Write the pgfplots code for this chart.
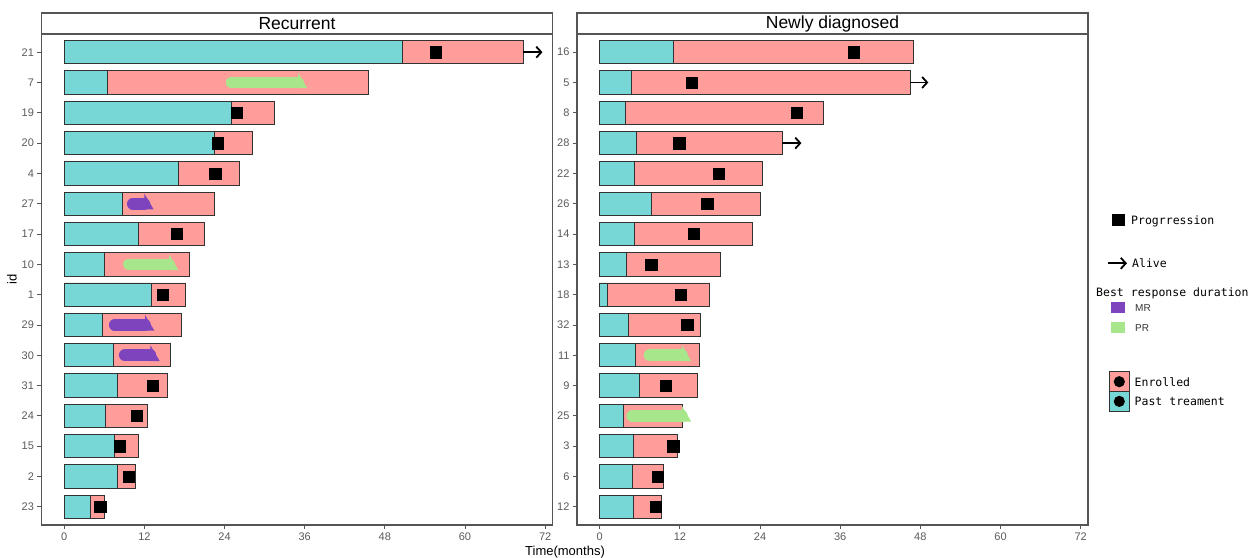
\documentclass[border=0pt]{standalone}
\usepackage{pgfplots}
\usepackage{pgfplotstable}
\pgfplotsset{compat=1.18}
\usepackage{fontspec}
\setmainfont{Liberation Sans}
\newfontfamily\legmono{DejaVu Sans Mono}
\usetikzlibrary{arrows.meta}
\definecolor{cy}{RGB}{118,215,214}
\definecolor{pk}{RGB}{255,157,154}
\definecolor{mr}{RGB}{126,68,190}
\definecolor{pr}{RGB}{168,230,140}
\definecolor{fr}{RGB}{85,85,85}
\definecolor{tk}{RGB}{90,90,90}
\definecolor{bo}{RGB}{50,50,50}

% pos past total progression
\pgfplotstableread{
pos past total prog
16 50.7 68.7 55.6
15 6.4 45.5 nan
14 25.1 31.4 25.8
13 22.5 28.2 23.0
12 17.1 26.2 22.6
11 8.7 22.5 nan
10 11.1 21.0 16.9
9 6.0 18.7 nan
8 13.0 18.2 14.7
7 5.7 17.5 nan
6 7.4 15.9 nan
5 7.9 15.4 13.3
4 6.2 12.4 10.8
3 7.5 11.1 8.3
2 7.95 10.7 9.6
1 4.0 6.0 5.4
}\leftdata

\pgfplotstableread{
pos past total prog
16 11.1 46.9 38.0
15 4.7 46.5 13.8
14 3.8 33.5 29.5
13 5.5 27.3 11.9
12 5.25 24.3 17.8
11 7.8 24.1 16.1
10 5.25 22.9 14.1
9 4.0 18.1 7.7
8 1.2 16.5 12.1
7 4.3 15.1 13.1
6 5.35 14.9 nan
5 5.9 14.7 9.9
4 3.6 12.4 nan
3 5.1 11.6 11.0
2 4.84 9.6 8.7
1 5.0 9.2 8.4
}\rightdata

\pgfplotsset{panel/.style={
  scale only axis, width=511pt, height=491pt,
  xmin=-3.4, xmax=73.1, ymin=0.4, ymax=16.6,
  xtick={0,12,24,36,48,60,72}, ytick={1,...,16},
  tick pos=left,
  tick align=outside, major tick length=4pt,
  tick style={color=fr, line width=0.8pt},
  axis line style={color=fr, line width=1.2pt},
  ticklabel style={font=\fontsize{11}{12}\selectfont, text=tk},
  /pgf/number format/assume math mode=true,
  title style={at={(0.5,1)}, anchor=south, yshift=-6pt, draw=fr, line width=1.2pt, fill=white,
    minimum width=511pt, minimum height=21pt, inner sep=0pt, outer sep=0pt,
    font=\fontsize{17.5}{18}\selectfont, text=black},
  clip=false,
},
pbar/.style={xbar, bar shift=0pt, bar width=0.77, draw=bo, line width=0.9pt},
prog/.style={only marks, mark=square*, mark size=5.6pt, color=black},
alive/.style={black, line width=1.8pt, -{Straight Barb[length=5pt,width=11pt]}},
stroke/.style={line width=11.6pt, line cap=round, color=#1},
tri/.style={fill=#1, draw=none},
}

\begin{document}
\begin{tikzpicture}[x=1pt,y=1pt]
\path[use as bounding box] (0,0) rectangle (1255,557);

\begin{axis}[panel, at={(41.5pt,32pt)}, anchor=south west, title={Recurrent},
  yticklabels={23,2,15,24,31,30,29,1,10,17,27,4,20,19,7,21}]
\addplot[pbar, fill=pk] table[x=total,y=pos]{\leftdata};
\addplot[pbar, fill=cy] table[x=past,y=pos]{\leftdata};
\addplot[prog] table[x=prog,y=pos]{\leftdata};
\addplot[alive] coordinates {(68.7,16) (71.6,16)};
% best response strokes
\addplot[stroke=pr] coordinates {(25.06,15) (35.0,15)};
\addplot[tri=pr] coordinates {(35.0,15.33) (35.0,14.81) (36.4,14.81)} --cycle;
\addplot[stroke=mr] coordinates {(10.26,11) (12.0,11)};
\addplot[tri=mr] coordinates {(12.0,11.33) (12.0,10.81) (13.4,10.81)} --cycle;
\addplot[stroke=pr] coordinates {(9.66,9) (15.7,9)};
\addplot[tri=pr] coordinates {(15.7,9.33) (15.7,8.81) (17.1,8.81)} --cycle;
\addplot[stroke=mr] coordinates {(7.56,7) (12.1,7)};
\addplot[tri=mr] coordinates {(12.1,7.33) (12.1,6.81) (13.5,6.81)} --cycle;
\addplot[stroke=mr] coordinates {(9.06,6) (12.9,6)};
\addplot[tri=mr] coordinates {(12.9,6.33) (12.9,5.81) (14.3,5.81)} --cycle;
\end{axis}

\begin{axis}[panel, at={(577pt,32pt)}, anchor=south west, title={Newly diagnosed},
  yticklabels={12,6,3,25,9,11,32,18,13,14,26,22,28,8,5,16}]
\addplot[pbar, fill=pk] table[x=total,y=pos]{\rightdata};
\addplot[pbar, fill=cy] table[x=past,y=pos]{\rightdata};
\addplot[prog] table[x=prog,y=pos]{\rightdata};
\addplot[alive] coordinates {(46.5,15) (49.2,15)};
\addplot[alive] coordinates {(27.3,13) (30.2,13)};
\addplot[stroke=pr] coordinates {(7.46,6) (12.3,6)};
\addplot[tri=pr] coordinates {(12.3,6.33) (12.3,5.81) (13.7,5.81)} --cycle;
\addplot[stroke=pr] coordinates {(4.86,4) (12.3,4)};
\addplot[tri=pr] coordinates {(12.3,4.33) (12.3,3.81) (13.7,3.81)} --cycle;
\end{axis}

% axis labels
\node[rotate=90, font=\fontsize{13}{14}\selectfont, text=black] at (12,278) {id};
\node[font=\fontsize{13}{14}\selectfont, text=black] at (565,5) {Time(months)};

% legend
\tikzset{lg/.style={anchor=west, inner sep=0pt, text height=8.3pt, text depth=0pt, font=\legmono\fontsize{11.5}{12}\selectfont}}
\fill[black] (1112.2,330.5) rectangle (1125.2,342.5);
\node[lg] at (1131,336.5) {Progrression};
\draw[black, line width=1.8pt, -{Straight Barb[length=5pt,width=11pt]}] (1108,293.7) -- (1127,293.7);
\node[lg] at (1132,293.7) {Alive};
\node[lg] at (1096,264.3) {Best response duration};
\fill[mr] (1110.7,243.7) rectangle (1125,254.7);
\node[anchor=west, inner sep=0pt, text height=7.2pt, text depth=0pt, font=\fontsize{10}{11}\selectfont, text=black!80] at (1135,248.7) {MR};
\fill[pr] (1110.7,223.7) rectangle (1125,235.3);
\node[anchor=west, inner sep=0pt, text height=7.2pt, text depth=0pt, font=\fontsize{10}{11}\selectfont, text=black!80] at (1135,229.5) {PR};
\filldraw[fill=pk, draw=bo, line width=0.9pt] (1109.3,165.3) rectangle (1129.3,185.3);
\fill[black] (1119.3,175.3) circle (5.6);
\node[lg] at (1134.5,174.5) {Enrolled};
\filldraw[fill=cy, draw=bo, line width=0.9pt] (1109.3,146) rectangle (1129.3,165.3);
\fill[black] (1119.3,155.6) circle (5.6);
\node[lg] at (1134.5,155.5) {Past treament};
\end{tikzpicture}
\end{document}
